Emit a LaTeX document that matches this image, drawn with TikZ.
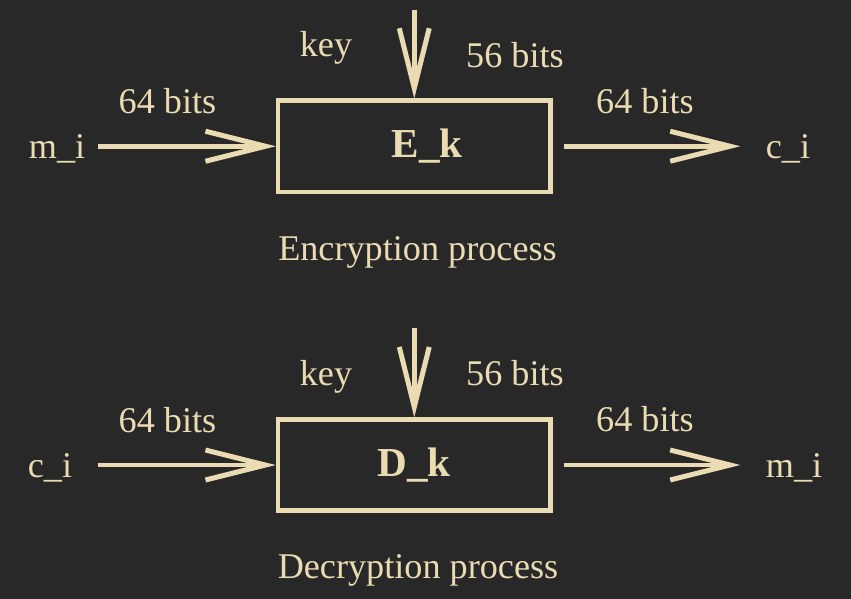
\documentclass[tikz,border=0pt]{standalone}
\usepackage{fontspec}
\setmainfont{Liberation Serif}
\usetikzlibrary{arrows.meta}
\definecolor{fondo}{HTML}{282828}
\definecolor{tinta}{HTML}{EBDBB2}
\tikzset{
	etiqueta/.style={anchor=base, inner sep=0pt, text=tinta, font=\fontsize{18.1}{21}\selectfont},
	caja/.style={draw=tinta, line width=2.25pt, minimum width=136.25pt, minimum height=45.5pt, inner sep=0pt, text=tinta, font=\fontsize{20.6}{24}\selectfont\bfseries},
	flecha/.style={draw=tinta, line width=2.25pt, -{Straight Barb[length=30pt, width=15pt, line width=2.5pt]}}
}
\begin{document}
\begin{tikzpicture}[x=0.5pt, y=-0.5pt]
		\fill[fondo] (0,0) rectangle (851,599); % fondo oscuro
		% cifrado
		\node[caja] (Ek) at (414.25,146.25) {\hspace{13pt}E\_k};
		\node[etiqueta] (mE) at (57,158) {m\_i};
		\node[etiqueta] (cE) at (788,158) {c\_i};
		\node[etiqueta] (bitsEa) at (167.5,113) {64 bits};
		\node[etiqueta] (bitsEb) at (645,113) {64 bits};
		\node[etiqueta] (keyE) at (326,57) {key};
		\node[etiqueta] (bitsEk) at (515,68) {56 bits};
		\node[etiqueta] (tituloE) at (417.5,260) {Encryption process};
		\coordinate (llaveE) at (414.25,10);
		\draw[flecha, shorten <=6pt] (mE.east |- Ek.west) -- (Ek.west);
		\draw[flecha, shorten <=5.75pt, shorten >=12.5pt] (Ek.east) -- (cE.west |- Ek.east);
		\draw[flecha] (llaveE) -- (Ek.north);
		% descifrado
		\node[caja] (Dk) at (414.25,465) {D\_k};
		\node[etiqueta] (cD) at (50,477) {c\_i};
		\node[etiqueta] (mD) at (794,477) {m\_i};
		\node[etiqueta] (bitsDa) at (167.5,432) {64 bits};
		\node[etiqueta] (bitsDb) at (645,431) {64 bits};
		\node[etiqueta] (keyD) at (326,385) {key};
		\node[etiqueta] (bitsDk) at (515,385) {56 bits};
		\node[etiqueta] (tituloD) at (418,578) {Decryption process};
		\coordinate (llaveD) at (414.25,328);
		\draw[flecha, shorten <=12.5pt] (cD.east |- Dk.west) -- (Dk.west);
		\draw[flecha, shorten <=5.75pt, shorten >=12.5pt] (Dk.east) -- (mD.west |- Dk.east);
		\draw[flecha] (llaveD) -- (Dk.north);
	\end{tikzpicture}
\end{document}
